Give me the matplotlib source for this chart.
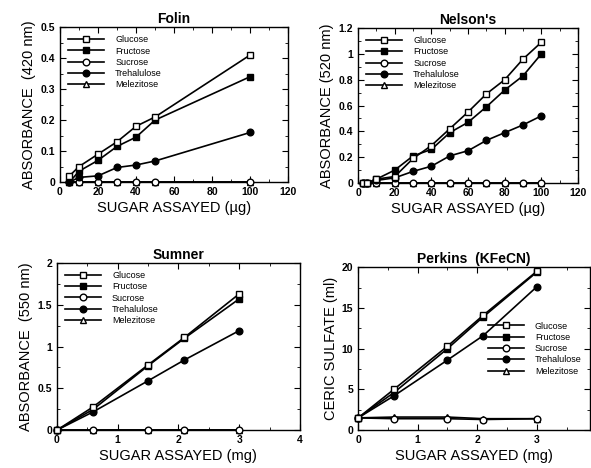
import matplotlib
matplotlib.use("Agg")
import matplotlib.pyplot as plt
from matplotlib.ticker import MultipleLocator

plt.rcParams['font.family'] = ['Liberation Sans', 'DejaVu Sans']

names = ['Glucose', 'Fructose', 'Sucrose', 'Trehalulose', 'Melezitose']
markers = ['s', 's', 'o', 'o', '^']
faces = ['white', 'black', 'white', 'black', 'white']
zorders = [5, 4, 3, 4, 2]

# Folin
folin_x = [5, 10, 20, 30, 40, 50, 100]
folin_glu = [0.02, 0.05, 0.09, 0.13, 0.18, 0.21, 0.41]
folin_fru = [0.0, 0.035, 0.07, 0.115, 0.145, 0.20, 0.34]
folin_suc = [0.0, 0.0, 0.0, 0.0, 0.0, 0.0, 0.0]
folin_tre = [0.0, 0.015, 0.02, 0.047, 0.055, 0.068, 0.16]
folin_mel = [0.0, 0.0, 0.0, 0.0, 0.0, 0.0, 0.0]

# Nelson's
nel_x = [2.5, 5, 10, 20, 30, 40, 50, 60, 70, 80, 90, 100]
nel_glu = [0, 0, 0.03, 0.05, 0.19, 0.29, 0.42, 0.55, 0.69, 0.80, 0.96, 1.09]
nel_fru = [0, 0, 0.03, 0.10, 0.21, 0.26, 0.39, 0.47, 0.59, 0.72, 0.83, 1.00]
nel_suc = [0, 0, 0, 0, 0, 0, 0, 0, 0, 0, 0, 0]
nel_tre = [0, 0, 0.02, 0.04, 0.09, 0.13, 0.21, 0.25, 0.33, 0.39, 0.45, 0.52]
nel_mel = [0, 0, 0, 0, 0, 0, 0, 0, 0, 0, 0, 0]

# Sumner
sum_x = [0, 0.6, 1.5, 2.1, 3.0]
sum_glu = [0, 0.28, 0.78, 1.11, 1.63]
sum_fru = [0, 0.25, 0.77, 1.10, 1.57]
sum_suc = [0, 0, 0, 0, 0]
sum_tre = [0, 0.22, 0.59, 0.84, 1.19]
sum_mel = [0, 0, 0, 0, 0]

# Perkins
per_x = [0, 0.6, 1.5, 2.1, 3.0]
per_glu = [1.5, 5.0, 10.3, 14.1, 19.5]
per_fru = [1.5, 4.6, 10.0, 13.9, 19.4]
per_suc = [1.5, 1.4, 1.4, 1.3, 1.4]
per_tre = [1.5, 4.2, 8.6, 11.6, 17.6]
per_mel = [1.5, 1.6, 1.6, 1.4, 1.4]

panels = [
    dict(pos=[0.1015, 0.611, 0.386, 0.331], title='Folin', x=folin_x,
         ys=[folin_glu, folin_fru, folin_suc, folin_tre, folin_mel],
         xlim=(0, 120), ylim=(0, 0.5), xmaj=20, ymaj=0.1,
         xlabel='SUGAR ASSAYED (\u00b5g)', ylabel='ABSORBANCE  (420 nm)',
         yfmt=lambda v: '0' if v == 0 else '%.1f' % v, leg='upper left'),
    dict(pos=[0.606, 0.609, 0.372, 0.331], title="Nelson's", x=nel_x,
         ys=[nel_glu, nel_fru, nel_suc, nel_tre, nel_mel],
         xlim=(0, 120), ylim=(0, 1.2), xmaj=20, ymaj=0.2,
         xlabel='SUGAR ASSAYED (\u00b5g)', ylabel='ABSORBANCE (520 nm)',
         yfmt=lambda v: '%g' % round(v, 1), leg='upper left'),
    dict(pos=[0.0964, 0.081, 0.411, 0.357], title='Sumner', x=sum_x,
         ys=[sum_glu, sum_fru, sum_suc, sum_tre, sum_mel],
         xlim=(0, 4), ylim=(0, 2), xmaj=1, ymaj=0.5,
         xlabel='SUGAR ASSAYED (mg)', ylabel='ABSORBANCE  (550 nm)',
         yfmt=lambda v: '%g' % v, leg='upper left'),
    dict(pos=[0.606, 0.081, 0.392, 0.348], title='Perkins  (KFeCN)', x=per_x,
         ys=[per_glu, per_fru, per_suc, per_tre, per_mel],
         xlim=(0, 3.89), ylim=(0, 20), xmaj=1, ymaj=5,
         xlabel='SUGAR ASSAYED (mg)', ylabel='CERIC SULFATE (ml)',
         yfmt=lambda v: '%g' % v, leg='center right'),
]

fig = plt.figure(figsize=(5.91, 4.68), dpi=100)
for p in panels:
    ax = fig.add_axes(p['pos'])
    for name, m, fc, z, y in zip(names, markers, faces, zorders, p['ys']):
        ax.plot(p['x'], y, color='black', lw=1.2, marker=m, ms=4.8,
                mfc=fc, mec='black', mew=1.0, label=name, zorder=z,
                clip_on=False)
    ax.set_xlim(*p['xlim'])
    ax.set_ylim(*p['ylim'])
    ax.xaxis.set_major_locator(MultipleLocator(p['xmaj']))
    ax.xaxis.set_minor_locator(MultipleLocator(p['xmaj'] / 2))
    ax.yaxis.set_major_locator(MultipleLocator(p['ymaj']))
    ax.yaxis.set_minor_locator(MultipleLocator(p['ymaj'] / 2))
    ax.yaxis.set_major_formatter(plt.FuncFormatter(lambda v, pos, f=p['yfmt']: f(v)))
    ax.xaxis.set_major_formatter(plt.FuncFormatter(lambda v, pos: '%g' % v))
    ax.tick_params(which='both', direction='in', top=True, right=True)
    ax.tick_params(which='major', length=4, labelsize=7.5)
    ax.tick_params(which='minor', length=2)
    for lab in ax.get_xticklabels() + ax.get_yticklabels():
        lab.set_fontweight('bold')
    for s in ax.spines.values():
        s.set_linewidth(1.0)
    ax.set_title(p['title'], fontsize=10, fontweight='bold', pad=3)
    ax.set_xlabel(p['xlabel'], fontsize=10.5, labelpad=3)
    ax.set_ylabel(p['ylabel'], fontsize=10.5, labelpad=3)
    ax.legend(loc=p['leg'], frameon=False, fontsize=6.5, handlelength=4,
              handletextpad=1.2, labelspacing=0.25, borderaxespad=0.5)

fig.savefig('out.png', dpi=100)
